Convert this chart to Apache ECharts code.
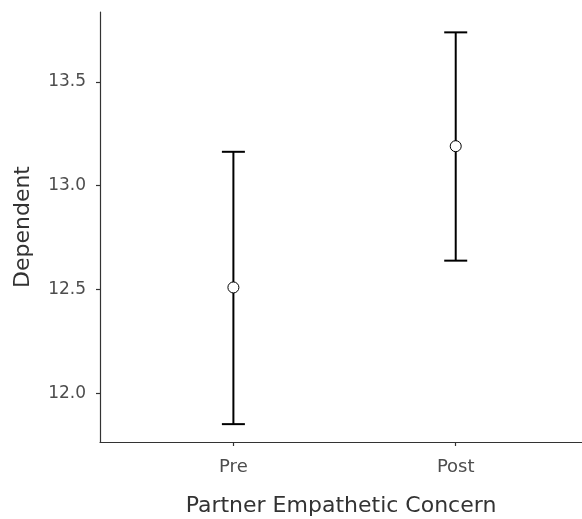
<!DOCTYPE html>
<html>
<head>
<meta charset="utf-8">
<script src="https://cdn.jsdelivr.net/npm/echarts@6/dist/echarts.min.js"></script>
<style>html,body{margin:0;padding:0;background:#fff}#c{width:582px;height:519px}</style>
</head>
<body>
<div id="c"></div>
<script>
var categories = ['Pre', 'Post'];
var means = [12.51, 13.19];
var lower = [11.852, 12.639];
var upper = [13.163, 13.738];
var yTicks = [12.0, 12.5, 13.0, 13.5];

var chart = echarts.init(document.getElementById('c'), null, {renderer: 'canvas'});
var pos = categories.map(function (c, i) { return i + 1; });
var barData = pos.map(function (p, i) { return [p, lower[i], upper[i]]; });
var ptData = pos.map(function (p, i) { return [p, means[i]]; });
var font = 'DejaVu Sans, Helvetica, Arial, sans-serif';

chart.setOption({
  animation: false,
  grid: {left: 100, right: 0, top: 12, bottom: 77, containLabel: false, outerBoundsMode: 'none'},
  xAxis: {
    type: 'value', min: 0.4, max: 2.568,
    name: 'Partner Empathetic Concern', nameLocation: 'middle', nameGap: 53,
    nameTextStyle: {fontFamily: font, fontSize: 22, color: '#333', verticalAlign: 'top'},
    splitLine: {show: false},
    axisLine: {show: true, onZero: false, lineStyle: {color: '#333', width: 1.2}},
    axisTick: {show: true, length: 4, customValues: pos, lineStyle: {color: '#333', width: 1.2}},
    axisLabel: {customValues: pos, margin: 16, fontFamily: font, fontSize: 18, color: '#4d4d4d',
      formatter: function (v) { return categories[Math.round(v) - 1] || ''; }}
  },
  yAxis: {
    type: 'value', min: 11.766, max: 13.836,
    name: 'Dependent', nameLocation: 'middle', nameGap: 66, nameRotate: 90,
    nameTextStyle: {fontFamily: font, fontSize: 22, color: '#333'},
    splitLine: {show: false},
    axisLine: {show: true, onZero: false, lineStyle: {color: '#333', width: 1.2}},
    axisTick: {show: true, length: 4, customValues: yTicks, lineStyle: {color: '#333', width: 1.2}},
    axisLabel: {customValues: yTicks, margin: 14, fontFamily: font, fontSize: 17, color: '#4d4d4d',
      formatter: function (v) { return v.toFixed(1); }}
  },
  series: [{
    type: 'custom',
    data: barData,
    z: 2,
    renderItem: function (params, api) {
      var x = api.value(0);
      var lo = api.coord([x, api.value(1)]);
      var hi = api.coord([x, api.value(2)]);
      var hw = 11.5;
      var st = {stroke: '#000', lineWidth: 2, fill: null};
      return {type: 'group', children: [
        {type: 'line', shape: {x1: lo[0], y1: lo[1], x2: hi[0], y2: hi[1]}, style: st},
        {type: 'line', shape: {x1: lo[0] - hw, y1: lo[1], x2: lo[0] + hw, y2: lo[1]}, style: st},
        {type: 'line', shape: {x1: hi[0] - hw, y1: hi[1], x2: hi[0] + hw, y2: hi[1]}, style: st}
      ]};
    }
  }, {
    type: 'scatter',
    data: ptData,
    z: 3,
    symbol: 'circle',
    symbolSize: 11,
    itemStyle: {color: '#fff', borderColor: '#000', borderWidth: 1, opacity: 1}
  }]
});
</script>
</body>
</html>
